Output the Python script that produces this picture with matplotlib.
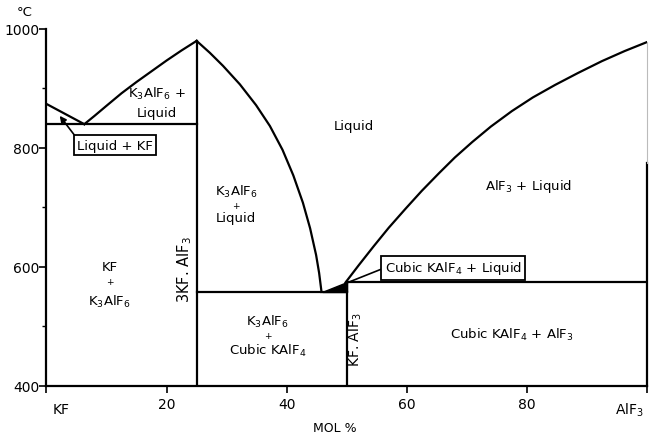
import numpy as np
import matplotlib
matplotlib.use('Agg')
import matplotlib.pyplot as plt
import matplotlib as mpl

mpl.rcParams['font.family'] = ['DejaVu Sans']
mpl.rcParams['mathtext.default'] = 'regular'

# liquidus curves (mol % AlF3, deg C)
kf_liq_x = [0, 6.3]
kf_liq_t = [874, 840]
k3_left_x = [6.3, 8, 10, 12.5, 15, 17.5, 20, 22.5, 25]
k3_left_t = [840, 854, 871, 892, 911, 929, 947, 964, 980]
k3_right_x = [25, 27.2, 29.4, 32.2, 34.9, 37.2, 39.3, 41.1, 42.7, 43.9, 44.9, 45.4, 45.8]
k3_right_t = [980, 960, 938, 907, 872, 837, 797, 754, 708, 665, 620, 590, 558]
alf3_liq_x = [49.8, 52, 54.5, 57, 59.8, 62.5, 65.4, 68, 70.9, 74, 77.5,
              81, 84.7, 88.5, 92.5, 96.3, 100]
alf3_liq_t = [574, 603, 635, 666, 698, 728, 758, 784, 810, 836, 862,
              885, 906, 926, 946, 963, 978]

# invariant lines and compounds
t_eut1 = 840
t_eut2 = 558
t_peri = 574
x_k3 = 25
x_kalf4 = 50
t_k3_melt = 980

x_ticks = [20, 40, 60, 80]
y_ticks = [400, 600, 800, 1000]
y_minor = [500, 700, 900]

fig = plt.figure(figsize=(6.53, 4.39), dpi=100)
ax = fig.add_axes([0.0712, 0.1185, 0.9196, 0.8132])
ax.set_xlim(0, 100)
ax.set_ylim(400, 1000)

lw = 1.6
k = 'black'
ax.plot(kf_liq_x, kf_liq_t, color=k, lw=lw)
ax.plot(k3_left_x, k3_left_t, color=k, lw=lw)
ax.plot(k3_right_x, k3_right_t, color=k, lw=lw)
ax.plot(alf3_liq_x, alf3_liq_t, color=k, lw=lw)
ax.plot([0, x_k3], [t_eut1, t_eut1], color=k, lw=lw)
ax.plot([x_k3, x_kalf4], [t_eut2, t_eut2], color=k, lw=lw)
ax.plot([x_kalf4, 100], [t_peri, t_peri], color=k, lw=lw)
ax.plot([x_k3, x_k3], [400, t_k3_melt], color=k, lw=lw)
ax.plot([x_kalf4, x_kalf4], [400, t_peri], color=k, lw=lw)
ax.fill([k3_right_x[-1], x_kalf4, x_kalf4], [t_eut2, t_eut2, t_peri], color=k, lw=1)

# frame
for s in ['top', 'right']:
    ax.spines[s].set_visible(False)
ax.spines['left'].set_linewidth(lw)
ax.spines['bottom'].set_linewidth(lw)
ax.plot([100, 100], [400, 775], color=k, lw=lw, clip_on=False)
ax.plot([100, 100], [775, 978], color='#bbbbbb', lw=0.8, clip_on=False)

ax.set_yticks(y_ticks)
ax.set_yticks(y_minor, minor=True)
ax.set_xticks(x_ticks)
ax.set_xticks([0, 100], minor=True)
ax.tick_params(axis='y', which='major', length=5, width=1.2, pad=0, labelsize=10)
ax.tick_params(axis='y', which='minor', length=3, width=1.0)
ax.tick_params(axis='x', which='both', length=5, width=1.2, pad=3, labelsize=10)

fs = 9.5
ax.text(-3.6, 1030, '°C', fontsize=fs, ha='center', va='center', clip_on=False)
ax.text(2.5, 361, 'KF', fontsize=10, ha='center', va='center', clip_on=False)
ax.text(97, 360, 'AlF$_3$', fontsize=10, ha='center', va='center', clip_on=False)
ax.text(48, 331, 'MOL %', fontsize=9, ha='center', va='center', clip_on=False)

# phase field labels
ax.text(18.3, 892, 'K$_3$AlF$_6$ +', fontsize=fs, ha='center', va='center')
ax.text(18.3, 860, 'Liquid', fontsize=fs, ha='center', va='center')
ax.text(51.2, 838, 'Liquid', fontsize=fs, ha='center', va='center')
ax.text(31.6, 727, 'K$_3$AlF$_6$', fontsize=fs, ha='center', va='center')
ax.text(31.6, 704, '+', fontsize=6.5, ha='center', va='center')
ax.text(31.6, 684, 'Liquid', fontsize=fs, ha='center', va='center')
ax.text(80.3, 737, 'AlF$_3$ + Liquid', fontsize=fs, ha='center', va='center')
ax.text(10.5, 601, 'KF', fontsize=fs, ha='center', va='center')
ax.text(10.5, 576, '+', fontsize=6.5, ha='center', va='center')
ax.text(10.5, 543, 'K$_3$AlF$_6$', fontsize=fs, ha='center', va='center')
ax.text(23.0, 597, '3KF. AlF$_3$', fontsize=10.5, ha='center', va='center', rotation=90)
ax.text(36.8, 509, 'K$_3$AlF$_6$', fontsize=fs, ha='center', va='center')
ax.text(36.8, 485, '+', fontsize=6.5, ha='center', va='center')
ax.text(36.8, 461, 'Cubic KAlF$_4$', fontsize=fs, ha='center', va='center')
ax.text(51.4, 479, 'KF. AlF$_3$', fontsize=10, ha='center', va='center', rotation=90)
ax.text(77.5, 487, 'Cubic KAlF$_4$ + AlF$_3$', fontsize=fs, ha='center', va='center')

box = dict(boxstyle='square,pad=0.25', fc='white', ec='black', lw=1.3)
ax.annotate('Liquid + KF', xy=(2.2, 854), xytext=(11.4, 805), fontsize=fs,
            ha='center', va='center', bbox=box,
            arrowprops=dict(arrowstyle='-|>', color=k, lw=1.2, shrinkA=0, shrinkB=0,
                            relpos=(0.0, 1.0)))
ax.annotate('Cubic KAlF$_4$ + Liquid', xy=(50.2, 574), xytext=(67.7, 598.5), fontsize=fs,
            ha='center', va='center', bbox=box,
            arrowprops=dict(arrowstyle='-', color=k, lw=1.2, shrinkA=0, shrinkB=0,
                            relpos=(0.0, 0.5)))

fig.savefig('out.png', dpi=100)
